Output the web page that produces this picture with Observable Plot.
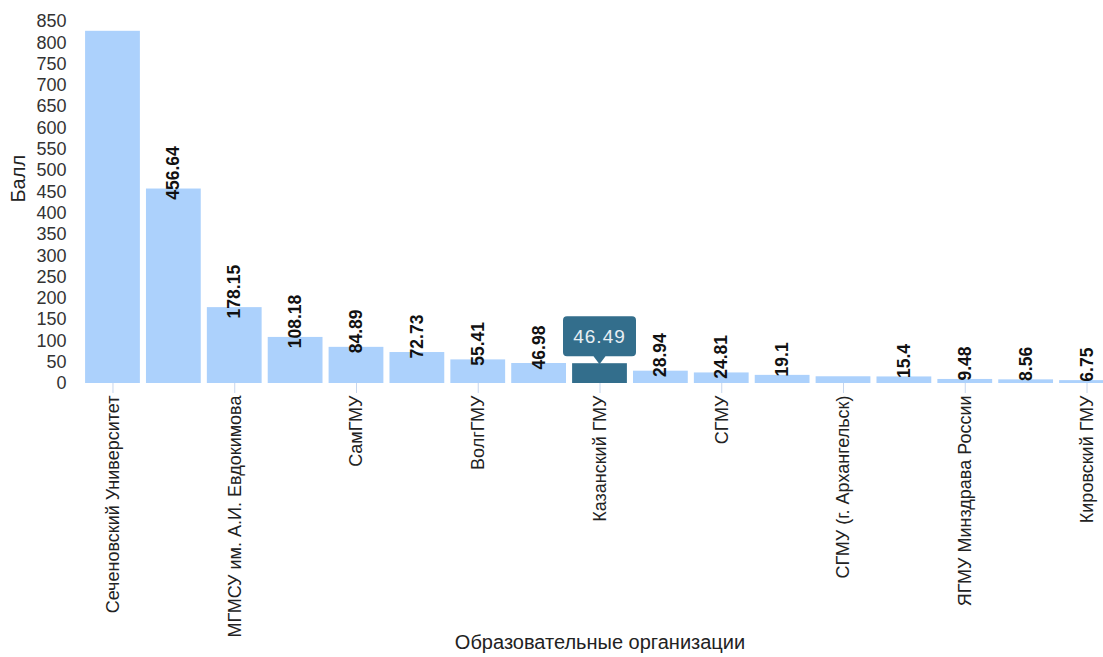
<!DOCTYPE html>
<html><head><meta charset="utf-8">
<script src="https://cdn.jsdelivr.net/npm/d3@7"></script>
<script src="https://cdn.jsdelivr.net/npm/@observablehq/plot@0.6"></script>
<style>
html,body{margin:0;padding:0;background:#fff;overflow:hidden;}
#chart{width:1103px;height:657px;overflow:hidden;}
</style></head><body><div id="chart"></div>
<script>
const organizations = [
  "Сеченовский Университет",
  "РНИМУ им. Н.И. Пирогова",
  "МГМСУ им. А.И. Евдокимова",
  "ПСПбГМУ им. И.П. Павлова",
  "СамГМУ",
  "СибГМУ",
  "ВолгГМУ",
  "БГМУ",
  "Казанский ГМУ",
  "РостГМУ",
  "СГМУ",
  "ОрГМУ",
  "СГМУ (г. Архангельск)",
  "ТюмГМУ",
  "ЯГМУ Минздрава России",
  "ИвГМА",
  "Кировский ГМУ"
];
const scores = [827, 456.64, 178.15, 108.18, 84.89, 72.73, 55.41, 46.98, 46.49, 28.94, 24.81, 19.1, 15.8, 15.4, 9.48, 8.56, 6.75];
const yTicks = d3.range(0, 851, 50);
const tickedOrganizations = organizations.filter((d, i) => i % 2 === 0);
const highlighted = "Казанский ГМУ";
const unlabeled = ["Сеченовский Университет", "Казанский ГМУ", "СГМУ (г. Архангельск)"];
const yTitle = "Балл";
const xTitle = "Образовательные организации";

const data = organizations.map((name, i) => ({name, score: scores[i]}));

const font = "'Liberation Sans', Arial, sans-serif";
const plot = Plot.plot({
  width: 1120, height: 657,
  marginTop: 21, marginBottom: 274, marginLeft: 79, marginRight: 0,
  style: {fontFamily: font, fontSize: "18px", color: "#333", background: "#fff", maxWidth: "none", overflow: "visible"},
  x: {domain: organizations, padding: 0.1, round: false, label: null},
  y: {domain: [0, 850], label: null},
  marks: [
    Plot.barY(data.filter(d => d.name !== highlighted), {x: "name", y: "score", fill: "#acd1fc"}),
    Plot.barY(data.filter(d => d.name === highlighted), {x: "name", y: "score", fill: "#336e8c"}),
    Plot.axisX({ticks: tickedOrganizations, tickRotate: -90, tickSize: 10, tickPadding: 2, stroke: "#c6d6ee", fill: "#222", label: null, fontSize: 18}),
    Plot.axisY({ticks: yTicks, tickSize: 0, tickPadding: 13, fill: "#333", label: null, fontSize: 18}),
    Plot.text(data.filter(d => !unlabeled.includes(d.name)), {x: "name", y: "score", text: d => String(d.score), rotate: -90, textAnchor: "middle", lineAnchor: "middle", dy: -16, fontWeight: "bold", fill: "#111", fontSize: 17.5}),
    Plot.text([yTitle], {text: d => d, frameAnchor: "left", dx: -61, rotate: -90, fontSize: 20, fill: "#222"}),
    Plot.text([xTitle], {text: d => d, frameAnchor: "bottom", dy: 265, fontSize: 20, fill: "#222"})
  ]
});
plot.style.maxWidth = "none";
document.getElementById("chart").appendChild(plot);

// tooltip anchored to the highlighted bar via the plot's own scales
(function () {
  const xs = plot.scale("x"), ys = plot.scale("y");
  const hv = data.find(d => d.name === highlighted);
  const cx = xs.apply(hv.name) + xs.bandwidth / 2;
  const ty = ys.apply(hv.score);
  const w = 73, h = 40, r = 4, pw = 6;
  const bot = ty - 7, tp = bot - h, lf = cx - w / 2, rt = cx + w / 2;
  const path = `M${lf + r},${tp} H${rt - r} Q${rt},${tp} ${rt},${tp + r} V${bot - r} Q${rt},${bot} ${rt - r},${bot} H${cx + pw} L${cx},${ty + 1} L${cx - pw},${bot} H${lf + r} Q${lf},${bot} ${lf},${bot - r} V${tp + r} Q${lf},${tp} ${lf + r},${tp} Z`;
  const g = d3.select(plot).append("g");
  g.append("path").attr("d", path).attr("fill", "#336e8c");
  g.append("text").attr("x", cx).attr("y", (tp + bot) / 2).attr("text-anchor", "middle").attr("dominant-baseline", "central")
    .attr("fill", "#e8eff4").attr("font-size", 19).attr("letter-spacing", 1).attr("font-family", font).text(String(hv.score));
})();
</script></body></html>
